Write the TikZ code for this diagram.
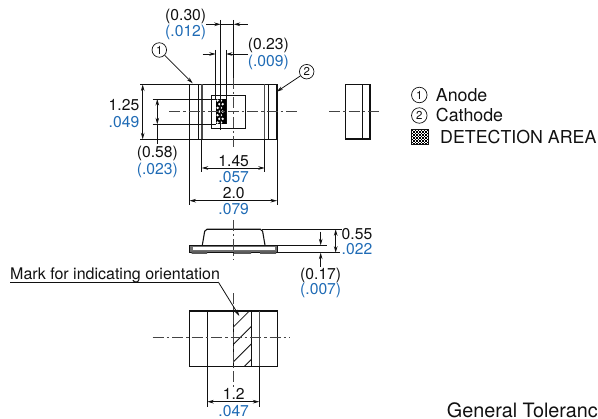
\documentclass[tikz,border=0pt]{standalone}
\usepackage{fontspec}
\setmainfont{TeX Gyre Heros}
\usetikzlibrary{arrows.meta}
\definecolor{dimblue}{HTML}{1F6BB5}
\definecolor{ink}{HTML}{111111}
\definecolor{cline}{HTML}{444444}
\tikzset{
  part/.style={draw=ink,line width=1.1pt},
  thin part/.style={draw=ink,line width=0.9pt},
  thick part/.style={draw=ink!75,line width=1.6pt},
  extn/.style={draw=ink,line width=0.8pt},
  centre/.style={draw=cline,line width=0.9pt,dash pattern=on 11pt off 3pt on 2.5pt off 3pt},
  dimn/.style={draw=ink,line width=0.8pt,{Stealth[length=6.5pt,width=3.6pt]}-{Stealth[length=6.5pt,width=3.6pt]}},
  arr/.style={draw=ink,line width=0.8pt,-{Stealth[length=6.5pt,width=3.6pt]}},
  blk/.style={text=ink,font=\fontsize{15.7}{16}\selectfont,inner sep=0pt,anchor=center},
  blu/.style={text=dimblue,font=\fontsize{15.7}{16}\selectfont,inner sep=0pt,anchor=center},
  marktext/.style={text=ink,font=\fontsize{16}{16}\selectfont,inner sep=0pt,anchor=base west},
  legendtext/.style={text=ink,font=\fontsize{17.8}{18}\selectfont,inner sep=0pt,anchor=west},
  tolertext/.style={text=ink,font=\fontsize{19.8}{20}\selectfont,inner sep=0pt,anchor=west},
  num/.style={circle,draw=ink,line width=0.7pt,minimum size=14.5pt,inner sep=0pt,text=ink,font=\fontsize{11.5}{11}\selectfont},
}
\begin{document}
\begin{tikzpicture}[x=1pt,y=-1pt]
\useasboundingbox (0,0) rectangle (598,419);
% ---------- top view
\draw[part] (189.5,84.5) rectangle (277,139.3);
\draw[thin part] (198.5,84.5) -- (198.5,139.3) (268,84.5) -- (268,139.3);
\draw[thick part] (202,84.5) -- (202,139.3);
\draw[thick part,line width=1.2pt] (264.5,84.5) -- (264.5,139.3);
\draw[thin part] (211.7,95) rectangle (245.3,128.7);
% detection area
\fill[black] (215.7,99) rectangle (226,124.3);
\foreach \r in {0,...,6}{
  \pgfmathsetmacro{\yy}{100.6+3.65*\r}
  \pgfmathsetmacro{\xa}{mod(\r,2)==0 ? 217.6 : 219.3}
  \pgfmathsetmacro{\xb}{mod(\r,2)==0 ? 221.0 : 222.7}
  \fill[white] (\xa,\yy) circle (1.3pt) (\xb,\yy) circle (1.3pt);
}
\draw[centre] (169,111.7) -- (298,111.7);
\draw[centre] (233.7,78) -- (233.7,147);
% extension lines, top view
\draw[extn] (140,84.5) -- (189.5,84.5) (140,139.3) -- (189.5,139.3);
\draw[extn] (152.7,99) -- (215.7,99) (152.7,124.3) -- (215.7,124.3);
\draw[extn] (189.5,139.3) -- (189.5,205) (277,139.3) -- (277,205);
\draw[extn] (201.7,139.3) -- (201.7,172) (264.7,139.3) -- (264.7,172);
\draw[extn] (215.7,50) -- (215.7,99) (226,50) -- (226,124.3);
\draw[extn] (220.7,20) -- (220.7,130);
\draw[extn] (233.7,20) -- (233.7,78);
\draw[extn] (157.3,124.3) -- (157.3,144);
\draw[arr] (206,24.3) -- (220.7,24.3);
\draw[arr] (247.7,24.3) -- (233.7,24.3);
\draw[extn] (220.7,24.3) -- (233.7,24.3);
\draw[arr] (202.7,54) -- (215.7,54);
\draw[arr] (248,54) -- (226,54);
\draw[dimn] (142.7,84.5) -- (142.7,139.3);
\draw[dimn] (157.3,99) -- (157.3,124.3);
\draw[dimn] (201.7,168) -- (264.7,168);
\draw[dimn] (189.5,200.7) -- (277,200.7);
\node[num] (c1) at (159.3,50) {1};
\node[num] (c2) at (306.7,71.7) {2};
\coordinate (c1tip) at (192.7,83.3);
\coordinate (c2tip) at (276.7,91.7);
\draw[arr] (c1) -- (c1tip);
\draw[arr] (c2) -- (c2tip);
\node[blk] (t030) at (185.7,16) {(0.30)};
\node[blu] (t012) at (185.7,32.7) {(.012)};
\node[blk] (t023) at (268.3,45.7) {(0.23)};
\node[blu] (t009) at (268.3,62) {(.009)};
\node[blk,anchor=east] (t125) at (139.5,105) {1.25};
\node[blu,anchor=east] (t049) at (139.5,121.7) {.049};
\node[blk] (t058) at (157.3,153.3) {(0.58)};
\node[blu] (t0023) at (157.3,170) {(.023)};
\node[blk] (t145) at (233.7,160.7) {1.45};
\node[blu] (t057) at (233.7,176.7) {.057};
\node[blk] (t20) at (233.7,192.7) {2.0};
\node[blu] (t079) at (233.7,209) {.079};
% ---------- end view
\draw[part] (345.3,84.3) rectangle (370,139);
\draw[thin part] (362.3,84.3) -- (362.3,139);
\draw[centre] (329.3,111.7) -- (381,111.7);
% ---------- legend
\node[num,minimum size=15.5pt] (l1) at (419.3,95) {1};
\node[num,minimum size=15.5pt] (l2) at (419.3,115.5) {2};
\node[legendtext] (tan) at (435.7,95) {Anode};
\node[legendtext] (tca) at (435.7,115.5) {Cathode};
\node[legendtext] (tde) at (440,137) {DETECTION AREA};
\foreach \i in {0,...,10}{\foreach \j in {0,...,9}{
  \pgfmathtruncatemacro{\odd}{mod(\i+\j,2)}
  \ifnum\odd=0 \fill[black] (411.7+1.5*\i,129.6+1.5*\j) rectangle ++(1.5,1.5);\fi
}}
\draw[ink,line width=0.7pt] (411.7,129.6) rectangle (428.2,144.6);
% ---------- side view
\fill[ink!60] (189.7,245.3) rectangle (277.3,252.7);
\fill[white] (192.5,247.5) rectangle (275,250.5);
\draw[thin part] (189.7,245.3) rectangle (277.3,252.7);
\draw[part,rounded corners=2pt] (202.3,245.3) -- (205,229.3) -- (262.3,229.3) -- (265,245.3);
\fill[ink!70] (191.5,251.5) rectangle (207,254) (260,251.5) rectangle (276,254) (234,251.5) rectangle (251,254);
\draw[centre] (233.7,220) -- (233.7,260);
\draw[extn] (262.3,229.3) -- (341.7,229.3);
\draw[extn] (277.3,245.3) -- (326.7,245.3);
\draw[extn] (277.3,252.7) -- (340,252.7);
\draw[dimn] (335.7,229.3) -- (335.7,252.7);
\coordinate (a17) at (320.7,231.7);
\coordinate (b17) at (320.7,266.7);
\coordinate (a17t) at (320.7,245.3);
\coordinate (b17t) at (320.7,252.7);
\draw[arr] (a17) -- (a17t);
\draw[arr] (b17) -- (b17t);
\node[blk,anchor=west] (t055) at (341.5,234) {0.55};
\node[blu,anchor=west] (t022) at (341.5,249) {.022};
\node[blk] (t017) at (320.7,275) {(0.17)};
\node[blu] (t007) at (320.7,290.7) {(.007)};
% ---------- bottom view
\begin{scope}
\clip (233.7,311) rectangle (251.3,366.3);
\foreach \yv in {326.7,344,361.5,377}{
  \draw[ink,line width=0.8pt] (233.7,\yv) -- ++(60,-60);
}
\end{scope}
\draw[part] (189.7,311) rectangle (277.7,366.3);
\draw[thin part] (207.3,311) -- (207.3,366.3) (233.7,311) -- (233.7,366.3) (251.3,311) -- (251.3,366.3);
\draw[thick part,line width=1.2pt] (259.3,311) -- (259.3,366.3);
\draw[centre] (152.7,337.3) -- (289.3,337.3);
\draw[centre] (233.7,293.3) -- (233.7,386.7);
\draw[extn] (207.3,366.3) -- (207.3,406.7) (259.3,366.3) -- (259.3,406.7);
\draw[dimn] (207.3,401.7) -- (259.3,401.7);
\node[blk] (t12) at (233.7,394.3) {1.2};
\node[blu] (t047) at (233.7,410.7) {.047};
\node[marktext] (tmark) at (10,280) {Mark for indicating orientation};
\coordinate (m0) at (10,282);
\coordinate (m1) at (218.3,282);
\coordinate (m2) at (239.3,316);
\draw[extn] (m0) -- (m1);
\draw[arr] (m1) -- (m2);
\node[tolertext] (tgen) at (446.7,410) {General Tolerance};
\end{tikzpicture}
\end{document}
